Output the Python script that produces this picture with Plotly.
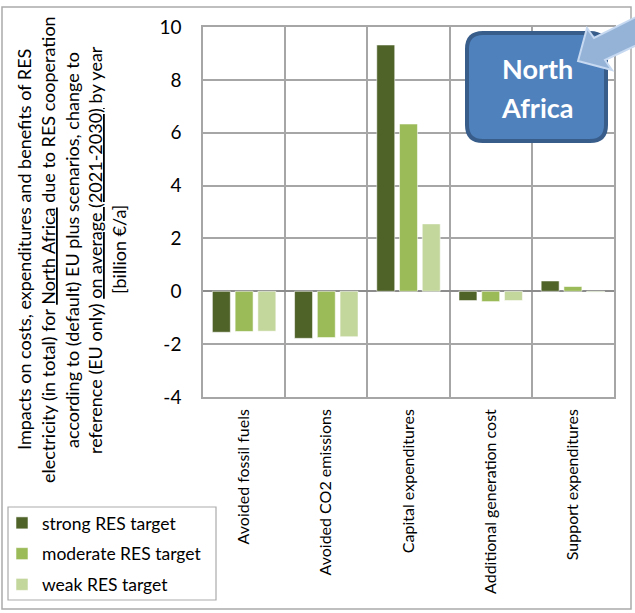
import plotly.graph_objects as go

# Categories and scenario values (billion €/a, average 2021-2030)
categories = [
    "Avoided fossil fuels",
    "Avoided CO2 emissions",
    "Capital expenditures",
    "Additional generation cost",
    "Support expenditures",
]
series_names = ["strong RES target", "moderate RES target", "weak RES target"]
strong = [-1.55, -1.78, 9.32, -0.35, 0.39]
moderate = [-1.52, -1.75, 6.33, -0.39, 0.18]
weak = [-1.51, -1.72, 2.55, -0.35, -0.03]
y_ticks = [-4, -2, 0, 2, 4, 6, 8, 10]

series_values = [strong, moderate, weak]
series_colors = ["#4F6228", "#9BBB59", "#C3D69B"]

W, H = 635, 613
L, R, T, B = 203, 21, 27, 216
PW, PH = W - L - R, H - T - B

FONT = "Lato, 'Open Sans', sans-serif"


def px(x):
    return (x - L) / PW


def py(y):
    return (H - B - y) / PH


fig = go.Figure()
for i, (name, vals, col) in enumerate(zip(series_names, series_values, series_colors)):
    fig.add_trace(go.Bar(
        x=categories, y=vals, name=name,
        marker=dict(color=col, line=dict(color="rgba(255,255,255,0.55)", width=1)),
        legendgroup=f"g{i}",
    ))

shapes = []

# outer chart frame
shapes.append(dict(type="rect", xref="paper", yref="paper",
                   x0=px(2), x1=px(631), y0=py(7), y1=py(609),
                   line=dict(color="#ABABAB", width=1.5), layer="below"))
# legend frame
shapes.append(dict(type="rect", xref="paper", yref="paper",
                   x0=px(8), x1=px(216), y0=py(507), y1=py(600),
                   line=dict(color="#ABABAB", width=1.2), layer="below"))


def rounded_rect(x0, y0, x1, y1, r):
    pts = [
        f"M{px(x0 + r)},{py(y0)}",
        f"L{px(x1 - r)},{py(y0)}",
        f"Q{px(x1)},{py(y0)} {px(x1)},{py(y0 + r)}",
        f"L{px(x1)},{py(y1 - r)}",
        f"Q{px(x1)},{py(y1)} {px(x1 - r)},{py(y1)}",
        f"L{px(x0 + r)},{py(y1)}",
        f"Q{px(x0)},{py(y1)} {px(x0)},{py(y1 - r)}",
        f"L{px(x0)},{py(y0 + r)}",
        f"Q{px(x0)},{py(y0)} {px(x0 + r)},{py(y0)}",
        "Z",
    ]
    return " ".join(pts)


# region badge
shapes.append(dict(type="path", xref="paper", yref="paper",
                   path=rounded_rect(467, 33, 606, 141, 16),
                   fillcolor="#4F81BD", line=dict(color="#385D8A", width=4),
                   layer="above"))

# block arrow pointing at the badge
arrow_pts = [(578, 61), (587, 28), (594, 38), (648, 11), (660, 34), (605, 60), (612, 70)]
arrow_path = "M" + " L".join(f"{px(x)},{py(y)}" for x, y in arrow_pts) + " Z"
shapes.append(dict(type="path", xref="paper", yref="paper", path=arrow_path,
                   fillcolor="#95B3D7", line=dict(color="#C6D9F1", width=2),
                   layer="above"))

annotations = []
# badge text
for txt, yy in [("North", 68), ("Africa", 107)]:
    annotations.append(dict(text=f"<b>{txt}</b>", xref="paper", yref="paper",
                            x=px(537), y=py(yy), xanchor="center", yanchor="middle",
                            showarrow=False,
                            font=dict(family=FONT, size=27, color="white")))

# multi-line y axis title
title_lines = [
    ("Impacts on costs, expenditures and benefits of RES", 24),
    ("electricity (in total) for <u>North Africa</u> due to RES cooperation", 48),
    ("according to (default) EU plus scenarios, change to", 72),
    ("reference (EU only) <u>on average (2021-2030)</u> by year", 95),
    ("[billion €/a]", 119),
]
for txt, xx in title_lines:
    annotations.append(dict(text=txt, xref="paper", yref="paper",
                            x=px(xx), y=py(250), xanchor="center", yanchor="middle",
                            textangle=-90, showarrow=False,
                            font=dict(family=FONT, size=18, color="black")))

fig.update_layout(
    width=W, height=H,
    margin=dict(l=L, r=R, t=T, b=B, pad=0, autoexpand=False),
    paper_bgcolor="white", plot_bgcolor="white",
    barmode="group", bargap=0.17, bargroupgap=0.21,
    font=dict(family=FONT, color="black"),
    shapes=shapes, annotations=annotations,
    legend=dict(
        x=px(2), y=py(505), xanchor="left", yanchor="top",
        bgcolor="rgba(0,0,0,0)", borderwidth=0,
        font=dict(family=FONT, size=17.5, color="black"),
        tracegroupgap=5, itemclick=False,
    ),
    showlegend=True,
)

fig.update_xaxes(
    type="category", tickson="boundaries", showgrid=True,
    gridcolor="#A6A6A6", gridwidth=1.5,
    showline=True, linecolor="#A6A6A6", linewidth=1.5, mirror=True,
    ticks="", tickangle=-90, ticklabelstandoff=4, automargin=False,
    tickfont=dict(family=FONT, size=16, color="black"),
)
fig.update_yaxes(
    range=[-4, 10], tickvals=y_ticks, ticktext=[str(v) for v in y_ticks],
    showgrid=True, gridcolor="#A6A6A6", gridwidth=1.5,
    zeroline=True, zerolinecolor="#8C8C8C", zerolinewidth=1.5,
    showline=True, linecolor="#A6A6A6", linewidth=1.5, mirror=True,
    ticks="", ticklabelstandoff=16, automargin=False,
    tickfont=dict(family=FONT, size=19, color="black"),
)

fig.write_html("out.html")
